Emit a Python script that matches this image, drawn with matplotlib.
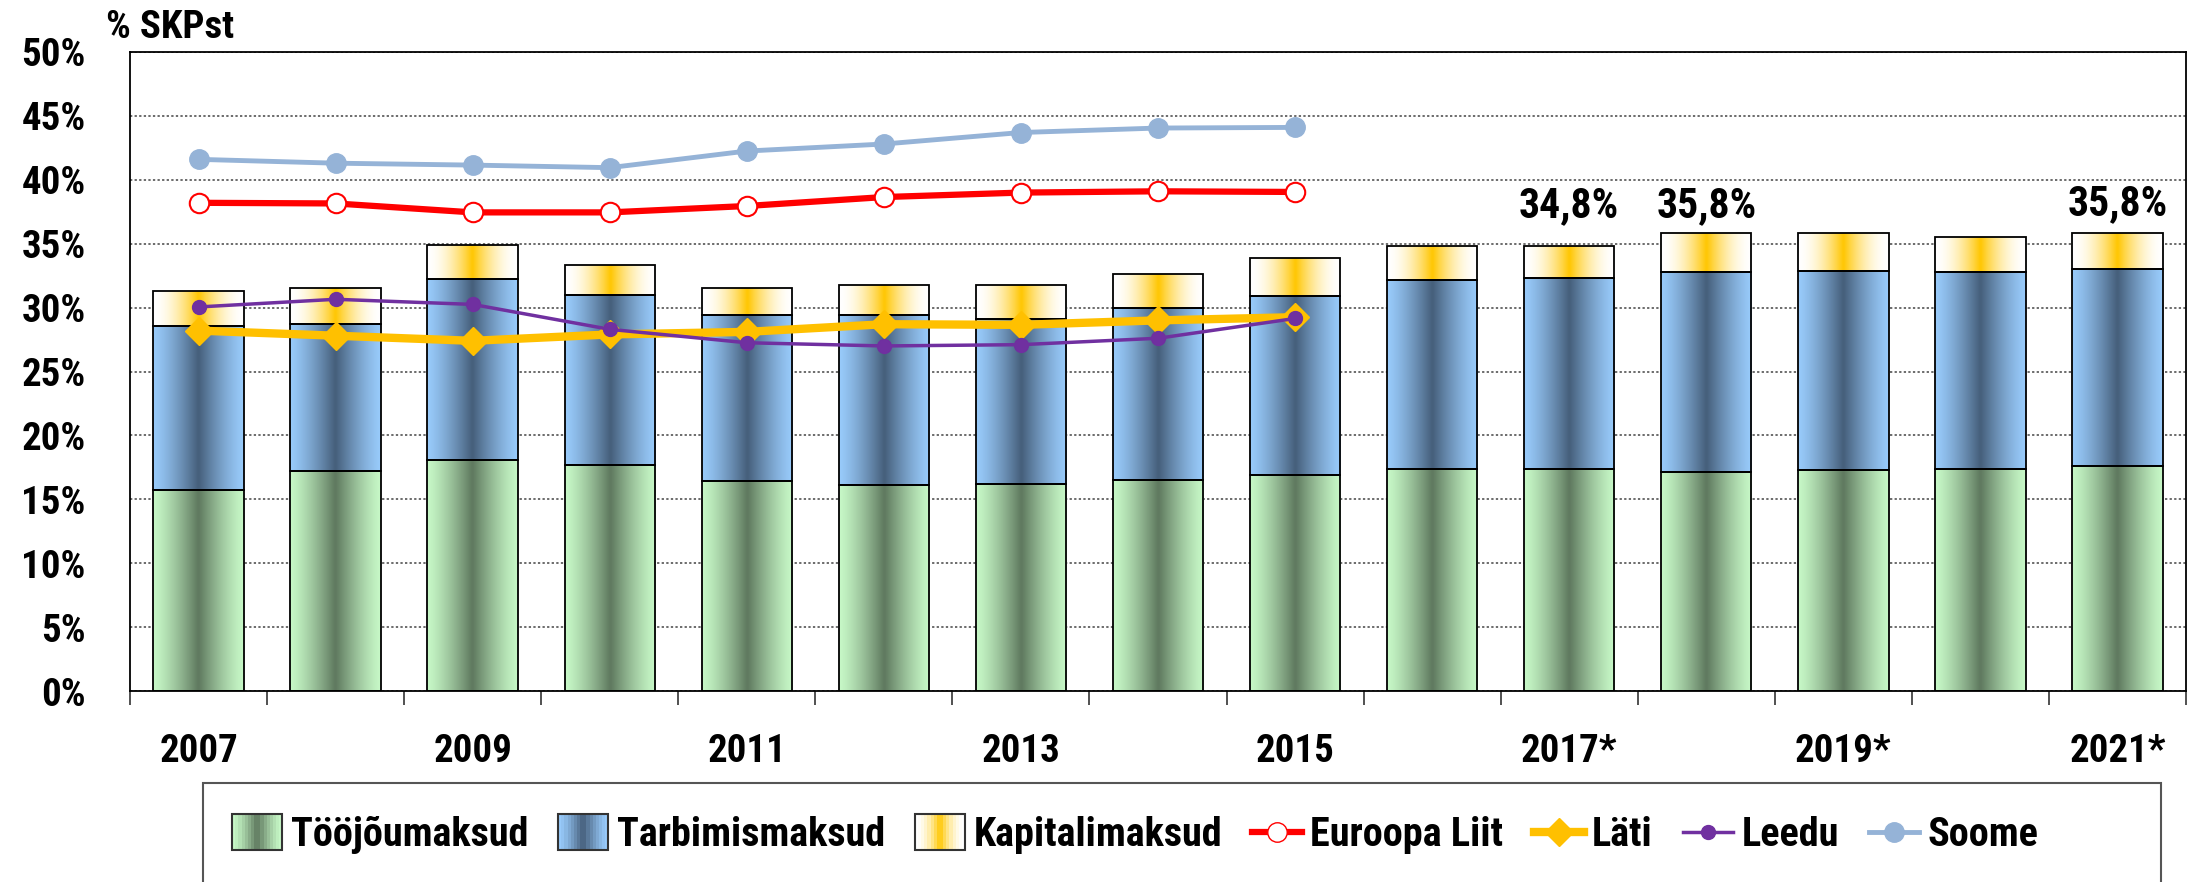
import numpy as np
import matplotlib
matplotlib.use("Agg")
import matplotlib.pyplot as plt
from matplotlib import font_manager as fm
from matplotlib.patches import Rectangle
from matplotlib.lines import Line2D
from matplotlib.legend_handler import HandlerBase

# fondid: kitsas paks kiri nagu Excelis
avail = {f.name for f in fm.fontManager.ttflist}
narrow = "DejaVu Sans"
for name in ["Liberation Sans Narrow", "Roboto Condensed", "Arial Narrow"]:
    if name in avail:
        narrow = name
        break
plt.rcParams["font.family"] = [narrow, "DejaVu Sans"]
plt.rcParams["font.weight"] = "bold"

## ANDMED
years = ["2007", "2008", "2009", "2010", "2011", "2012", "2013", "2014",
         "2015", "2016", "2017*", "2018*", "2019*", "2020*", "2021*"]
toojou = [15.7, 17.2, 18.1, 17.7, 16.4, 16.1, 16.2, 16.5, 16.9,
          17.35, 17.4, 17.15, 17.3, 17.4, 17.6]
tarbimine = [12.85, 11.55, 14.1, 13.3, 13.0, 13.3, 12.9, 13.5, 14.0,
             14.8, 14.9, 15.6, 15.6, 15.35, 15.4]
kapital = [2.75, 2.75, 2.7, 2.3, 2.15, 2.35, 2.65, 2.6, 3.0,
           2.65, 2.5, 3.05, 2.9, 2.75, 2.85]

line_years = years[:9]
euroopa = [38.2, 38.15, 37.45, 37.45, 37.95, 38.65, 39.0, 39.1, 39.05]
lati = [28.2, 27.8, 27.4, 27.9, 28.1, 28.7, 28.65, 29.0, 29.25]
leedu = [30.05, 30.65, 30.25, 28.3, 27.25, 27.0, 27.1, 27.6, 29.15]
soome = [41.6, 41.3, 41.15, 40.95, 42.25, 42.8, 43.7, 44.05, 44.1]

label_idx = [10, 11, 14]
label_txt = ["34,8%", "35,8%", "35,8%"]

# gradiendi värvid (serv, keskel)
grad_green = ("#C6F7C6", "#5E785E", 1.3)
grad_blue = ("#98CAFA", "#455E7A", 1.3)
grad_yellow = ("#FFFFFF", "#FFC600", 1.8)


def grad_colors(grad, n=64):
    light = np.array(matplotlib.colors.to_rgb(grad[0]))
    dark = np.array(matplotlib.colors.to_rgb(grad[1]))
    u = np.linspace(0, 1, n)
    t = (1 - np.abs(u - 0.5) / 0.5) ** grad[2]
    return light[None, :] * (1 - t[:, None]) + dark[None, :] * t[:, None]


fig = plt.figure(figsize=(21.93, 8.82), dpi=100)
ax = fig.add_axes([130 / 2193, 1 - 691 / 882, 2056 / 2193, 639 / 882])

x = np.arange(len(years))
bottom = np.zeros(len(years))
for vals, grad in [(toojou, grad_green), (tarbimine, grad_blue), (kapital, grad_yellow)]:
    bars = ax.bar(x, vals, width=0.66, bottom=bottom, facecolor="none",
                  edgecolor="black", linewidth=1.3, zorder=3)
    img = grad_colors(grad)[None, :, :]
    for b in bars:
        bx, by = b.get_x(), b.get_y()
        im = ax.imshow(img, extent=[bx, bx + b.get_width(), by, by + b.get_height()],
                       aspect="auto", interpolation="bilinear", zorder=2)
        im.set_clip_path(b)
    bottom = bottom + np.array(vals)

lx = np.arange(len(line_years))
ax.plot(lx, euroopa, color="#FF0000", lw=4.5, marker="o", ms=14,
        mfc="white", mec="#FF0000", mew=1.5, zorder=5)
ax.plot(lx, lati, color="#FFC000", lw=6, marker="D", ms=14,
        mfc="#FFC000", mec="#FFC000", zorder=6)
ax.plot(lx, leedu, color="#7030A0", lw=2.5, marker="o", ms=10,
        mfc="#7030A0", mec="#7030A0", zorder=7)
ax.plot(lx, soome, color="#95B3D7", lw=3.5, marker="o", ms=14,
        mfc="#95B3D7", mec="#95B3D7", zorder=8)

for i, t, off in zip(label_idx, label_txt, [21, 12, 13]):
    ax.annotate(t, (x[i], bottom[i]), xytext=(0, off), textcoords="offset points",
                ha="center", va="baseline", fontsize=30, fontweight="bold")

ax.set_xlim(-0.5, len(years) - 0.5)
ax.set_ylim(0, 50)
ax.set_yticks(np.arange(0, 51, 5))
ax.set_yticklabels([f"{v}%" for v in range(0, 51, 5)])
ax.tick_params(axis="y", length=0, pad=32, labelsize=28)
ax.set_xticks(x[::2])
ax.set_xticklabels(years[::2])
ax.set_xticks(np.arange(-0.5, len(years), 1), minor=True)
ax.tick_params(axis="x", which="major", length=0, pad=30, labelsize=28)
ax.tick_params(axis="x", which="minor", length=10, width=1.2, direction="out", color="#333333")
ax.grid(axis="y", linestyle=(0, (1.5, 1.5)), color="#444444", linewidth=1.1, zorder=0)
ax.set_axisbelow(True)
for s in ax.spines.values():
    s.set_linewidth(1.3)
    s.set_color("black")

fig.text(106 / 2193, 1 - 38 / 882, "% SKPst", fontsize=28, fontweight="bold",
         ha="left", va="baseline")


class GradKey:
    def __init__(self, grad):
        self.grad = grad


class GradHandler(HandlerBase):
    def create_artists(self, legend, orig_handle, xdescent, ydescent,
                       width, height, fontsize, trans):
        cols = grad_colors(orig_handle.grad, 16)
        n = len(cols)
        arts = []
        for k, c in enumerate(cols):
            arts.append(Rectangle((-xdescent + width * k / n, -ydescent - 0.15 * height),
                                  width / n + 0.3, height * 1.3, facecolor=c,
                                  edgecolor="none", transform=trans))
        arts.append(Rectangle((-xdescent, -ydescent - 0.15 * height), width, height * 1.3,
                              facecolor="none", edgecolor="#333333", lw=1.5, transform=trans))
        return arts


handles = [GradKey(grad_green), GradKey(grad_blue), GradKey(grad_yellow),
           Line2D([], [], color="#FF0000", lw=4.5, marker="o", ms=14, mfc="white", mec="#FF0000"),
           Line2D([], [], color="#FFC000", lw=6, marker="D", ms=14, mfc="#FFC000", mec="#FFC000"),
           Line2D([], [], color="#7030A0", lw=2.5, marker="o", ms=10, mfc="#7030A0", mec="#7030A0"),
           Line2D([], [], color="#95B3D7", lw=3.5, marker="o", ms=14, mfc="#95B3D7", mec="#95B3D7")]
labels = ["Tööjõumaksud", "Tarbimismaksud", "Kapitalimaksud", "Euroopa Liit", "Läti", "Leedu", "Soome"]
fig.legend(handles, labels, handler_map={GradKey: GradHandler()}, ncol=7,
           loc="center left", bbox_to_anchor=(212 / 2193, 1 - 835 / 882),
           frameon=False, borderpad=0, handlelength=1.25, handleheight=0.7,
           handletextpad=0.2, columnspacing=0.75, prop={"size": 29, "weight": "bold"})
fig.patches.append(Rectangle((203 / 2193, -0.05), (2161 - 203) / 2193, 0.05 + 1 - 783 / 882,
                             transform=fig.transFigure, fill=False, edgecolor="#555555", lw=1.5))

plt.savefig("out.png", dpi=100)
